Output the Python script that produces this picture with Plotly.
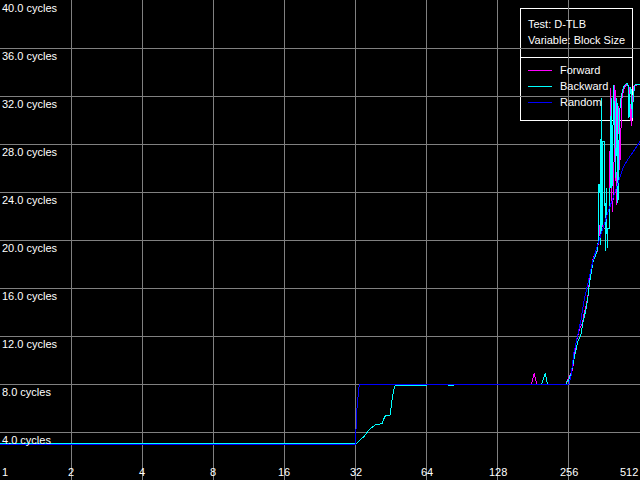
import numpy as np
import plotly.graph_objects as go

# ---- data (block size in KB, latency in cycles) ----
random_x = [1, 32, 32.31, 32.73, 33.18, 256, 261.0, 268.8, 279.5, 287.8, 296.4, 308.2, 311.2,
            323.6, 336.5, 349.9, 356.8, 374.6, 393.4, 413.0, 433.7, 451.0, 468.9, 492.4, 512]
random_y = [3.0, 3.0, 5.6, 7.2, 8.0, 8.0, 8.6, 10.6, 12.1, 13.3, 14.9, 16.4, 17.0,
            18.3, 19.4, 20.5, 21.0, 22.3, 23.5, 24.7, 26.0, 26.6, 27.1, 27.7, 28.2]

forward_x = [1, 32, 32.31, 32.73, 33.18, 177.9, 182.4, 187.3, 248.6, 256.8, 265.4, 269.6, 274.1,
             283.1, 292.6, 297.2, 302.2, 307.3, 312.1, 317.3, 323.6, 330.0, 336.5, 341.4, 346.5,
             351.6, 355.0, 360.3, 380.2, 383.9, 387.7, 392.2, 397.2, 401.1, 406.3, 411.0, 415.1,
             420.0, 425.3, 429.5, 438.0, 451.0, 459.9, 465.8, 470.3, 474.9, 482.9, 492.4, 512]
forward_y = [3.0, 3.0, 5.6, 7.2, 8.0, 8.0, 8.9, 8.0, 8.0, 8.6, 9.2, 10.3, 11.4,
             12.5, 13.1, 13.9, 14.4, 15.1, 16.4, 17.5, 18.4, 18.8, 19.0, 19.8, 21.0,
             22.5, 21.2, 21.0, 21.0, 32.7, 24.0, 22.3, 26.0, 32.9, 22.9, 28.0, 31.2,
             25.8, 30.0, 31.8, 32.6, 33.0, 32.8, 31.0, 29.5, 31.5, 32.8, 32.9, 33.0]

backward_x = [1, 32, 32.31, 33.6, 34.7, 35.87, 37.05, 38.9, 41.53, 41.94, 42.89, 44.73, 45.04,
              45.79, 46.83, 47.29, 64.0, 64.6, 78.6, 79.2, 83.3, 84.0, 196.1, 203.1, 207.9,
              248.6, 256.0, 261.0, 268.8, 278.7, 287.8, 292.6, 302.2, 307.3, 312.1, 317.3,
              323.6, 330.0, 336.5, 341.4, 343.1, 346.5, 348.2, 350.9, 353.3, 356.8, 362.8,
              364.9, 368.5, 372.1, 374.6, 380.2, 386.9, 389.6, 396.1, 403.9, 409.0, 413.0,
              419.1, 425.3, 431.6, 438.0, 444.4, 451.0, 455.4, 459.9, 465.8, 471.2, 474.9,
              478.2, 485.3, 512]
backward_y = [3.0, 3.0, 3.06, 3.4, 3.6, 4.0, 4.3, 4.6, 4.7, 5.0, 5.4, 5.4, 5.7,
              6.9, 7.8, 7.87, 7.87, 8.0, 8.0, 7.87, 7.87, 8.0, 8.0, 8.9, 8.0,
              8.0, 8.4, 8.8, 10.0, 11.5, 12.1, 13.0, 14.2, 15.0, 16.2, 17.2,
              18.2, 18.6, 19.0, 20.0, 24.6, 24.6, 19.6, 31.8, 20.7, 28.2, 28.2,
              19.1, 24.3, 19.3, 21.0, 21.0, 31.8, 24.3, 32.9, 25.2, 31.8, 23.1,
              30.5, 31.8, 32.5, 32.8, 33.0, 33.1, 33.0, 30.2, 32.7, 32.5, 30.2,
              31.5, 32.9, 33.0]

x_ticks = [1, 2, 4, 8, 16, 32, 64, 128, 256, 512]
x_tick_labels = ["1", "2", "4", "8", "16", "32", "64", "128", "256", "512"]
y_ticks = [4, 8, 12, 16, 20, 24, 28, 32, 36, 40]
y_tick_labels = [f"{v:.1f} cycles" for v in y_ticks]

series_names = ["Forward", "Backward", "Random"]
series_colors = ["#ff00ff", "#00ffff", "#0000ff"]
legend_title_lines = ["Test: D-TLB", "Variable: Block Size"]

FONT = "Liberation Sans, Arial, sans-serif"
W, H = 640, 480

fig = go.Figure()
for name, xs, ys, col in zip(series_names, [forward_x, backward_x, random_x],
                             [forward_y, backward_y, random_y], series_colors):
    fig.add_trace(go.Scatter(x=xs, y=ys, mode="lines", name=name,
                             line=dict(color=col, width=1), hoverinfo="skip"))

annotations = []
# y labels, just below each gridline
for v, t in zip(y_ticks, y_tick_labels):
    annotations.append(dict(x=0, xref="paper", y=v, yref="y", text=t, showarrow=False,
                            xanchor="left", yanchor="top", xshift=0, yshift=0,
                            font=dict(family=FONT, size=11, color="white")))
# x labels at bottom
for i, (v, t) in enumerate(zip(x_ticks, x_tick_labels)):
    anchor = "left" if i == 0 else ("right" if i == len(x_ticks) - 1 else "center")
    annotations.append(dict(x=np.log10(v), xref="x", y=0, yref="paper", text=t, showarrow=False,
                            xanchor=anchor, yanchor="bottom", yshift=0,
                            font=dict(family=FONT, size=11, color="white")))

# legend box (paper coords)
def px(x):
    return x / W

def py(y):
    return 1 - y / H

shapes = [
    dict(type="rect", xref="paper", yref="paper", x0=px(520), x1=px(632), y0=py(8), y1=py(120),
         line=dict(color="white", width=1), fillcolor="black", layer="between"),
    dict(type="line", xref="paper", yref="paper", x0=px(520), x1=px(632), y0=py(57), y1=py(57),
         line=dict(color="white", width=1), layer="between"),
]
for i, line in enumerate(legend_title_lines):
    annotations.append(dict(x=px(526), y=py(16 + i * 16), xref="paper", yref="paper", text=line,
                            showarrow=False, xanchor="left", yanchor="top",
                            font=dict(family=FONT, size=11, color="white")))
for i, (name, col) in enumerate(zip(series_names, series_colors)):
    yy = 70.5 + i * 16
    shapes.append(dict(type="line", xref="paper", yref="paper", x0=px(528), x1=px(552),
                       y0=py(yy), y1=py(yy), line=dict(color=col, width=1), layer="between"))
    annotations.append(dict(x=px(558), y=py(yy), xref="paper", yref="paper", text=name,
                            showarrow=False, xanchor="left", yanchor="middle",
                            font=dict(family=FONT, size=11, color="white")))

fig.update_layout(
    width=W, height=H, margin=dict(l=0, r=0, t=0, b=0),
    paper_bgcolor="black", plot_bgcolor="black", showlegend=False,
    xaxis=dict(type="log", range=[0, np.log10(512)], tickvals=x_ticks[1:-1], showticklabels=False,
               showgrid=True, gridcolor="#808080", gridwidth=1, zeroline=False, showline=False,
               ticks="", fixedrange=True),
    yaxis=dict(range=[0, 40], tickvals=y_ticks[:-1], showticklabels=False, showgrid=True,
               gridcolor="#808080", gridwidth=1, zeroline=False, showline=False, ticks="",
               fixedrange=True),
    annotations=annotations, shapes=shapes,
)

post = (
    "document.body.style.margin='0';document.body.style.overflow='hidden';"
    "document.body.style.background='black';"
    "var st=document.createElement('style');"
    "st.textContent='.scatterlayer path, .shapelayer path {shape-rendering: crispEdges;}';"
    "document.head.appendChild(st);"
)
fig.write_html("out.html", config={"displayModeBar": False}, post_script=post)
